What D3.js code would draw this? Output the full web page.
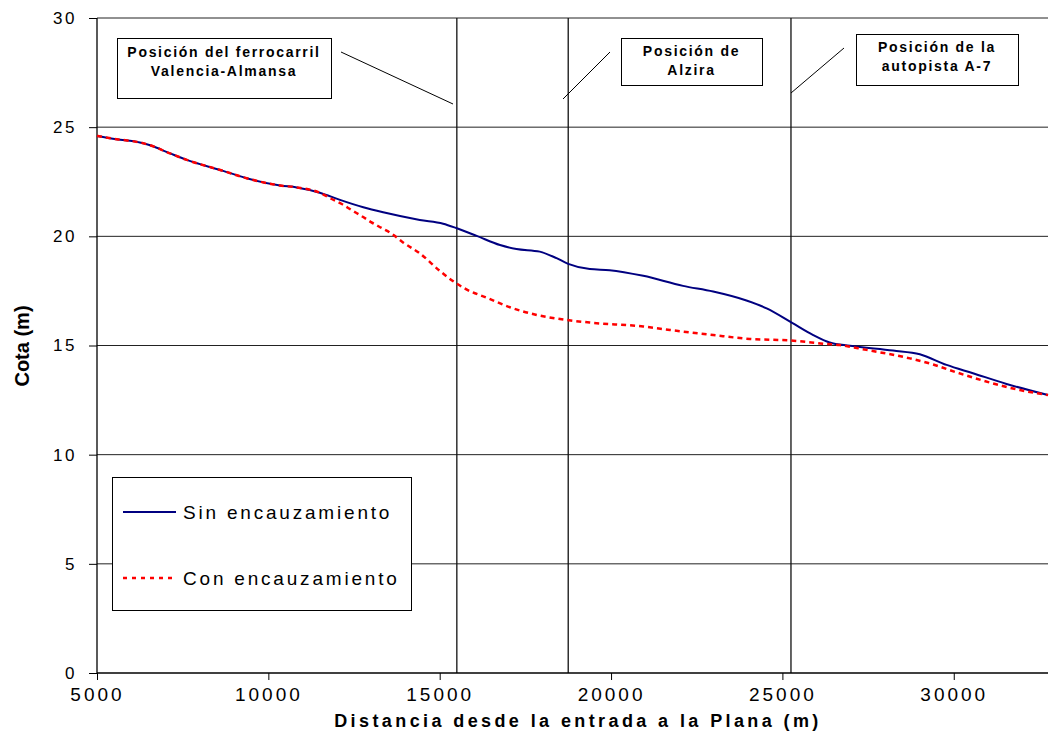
<!DOCTYPE html>
<html>
<head>
<meta charset="utf-8">
<script src="https://cdn.jsdelivr.net/npm/d3@7"></script>
<style>
  body { margin: 0; background: #fff; }
  text { font-family: "Liberation Sans", Arial, sans-serif; }
</style>
</head>
<body>
<svg id="chart"></svg>
<script>
// datos
const sinDist = [5000, 5570, 6250, 6550, 7130, 7620, 8680, 9370, 10340, 10830, 11500, 12090, 12770, 13350, 14420, 15100, 15500, 16080, 16760, 17240, 17920, 18410, 18750, 19380, 19960, 20940, 22100, 22980, 23950, 24540, 25270, 25900, 26380, 26970, 28230, 29010, 29790, 30560, 31540, 32750];
const sinCota = [24.6, 24.45, 24.3, 24.17, 23.8, 23.5, 23.0, 22.66, 22.33, 22.24, 22.0, 21.67, 21.33, 21.1, 20.75, 20.58, 20.37, 20.02, 19.6, 19.42, 19.3, 19.0, 18.74, 18.5, 18.45, 18.19, 17.73, 17.47, 17.06, 16.7, 16.05, 15.48, 15.14, 14.99, 14.77, 14.6, 14.11, 13.73, 13.24, 12.73];

const conDist = [5000, 5570, 6250, 6550, 7130, 7620, 8680, 9370, 10340, 10830, 11500, 11850, 12140, 12430, 12720, 13010, 13320, 13610, 13940, 14420, 15000, 15490, 15780, 16420, 17050, 17830, 18700, 19380, 20940, 21720, 22980, 24050, 25220, 26290, 26670, 27450, 28720, 29400, 30080, 30860, 31930, 32750];
const conCota = [24.6, 24.45, 24.3, 24.17, 23.8, 23.5, 23.0, 22.66, 22.33, 22.24, 22.0, 21.71, 21.48, 21.2, 20.93, 20.64, 20.37, 20.11, 19.71, 19.22, 18.42, 17.84, 17.57, 17.16, 16.75, 16.4, 16.17, 16.05, 15.87, 15.71, 15.48, 15.3, 15.23, 15.07, 15.02, 14.8, 14.41, 14.13, 13.77, 13.39, 12.96, 12.73];

const xTicks = [5000, 10000, 15000, 20000, 25000, 30000];
const yTicks = [0, 5, 10, 15, 20, 25, 30];

const posiciones = [15500, 18750, 25250];

const width = 1049;
const height = 740;
const margin = {top: 18, left: 97, right: 1, bottom: 67};

const svg = d3.select("#chart")
    .attr("width", width)
    .attr("height", height);

const x = d3.scaleLinear().domain([5000, 32750]).range([margin.left, width - margin.right]);
const y = d3.scaleLinear().domain([0, 30]).range([height - margin.bottom, margin.top]);

// rejilla horizontal
svg.append("g")
    .selectAll("line")
    .data(yTicks.filter(d => d > 0))
    .enter().append("line")
    .attr("x1", margin.left)
    .attr("x2", width - margin.right)
    .attr("y1", d => y(d))
    .attr("y2", d => y(d))
    .attr("stroke", "#222")
    .attr("stroke-width", 1);

// lineas verticales de posicion
svg.append("g")
    .selectAll("line")
    .data(posiciones)
    .enter().append("line")
    .attr("x1", d => x(d))
    .attr("x2", d => x(d))
    .attr("y1", y(30))
    .attr("y2", y(0))
    .attr("stroke", "#111")
    .attr("stroke-width", 1.3);

// ejes
const yAxis = svg.append("g")
    .attr("transform", `translate(${margin.left},0)`)
    .call(d3.axisLeft(y).tickValues(yTicks).tickSize(8).tickPadding(12));

const xAxis = svg.append("g")
    .attr("transform", `translate(0,${y(0)})`)
    .call(d3.axisBottom(x).tickValues(xTicks).tickSize(7).tickPadding(6).tickFormat(d3.format("d")));

[yAxis, xAxis].forEach(a => {
    a.select(".domain").attr("stroke", "#000").attr("stroke-width", 1.3);
    a.selectAll(".tick line").attr("stroke", "#000");
    a.selectAll("text")
        .attr("fill", "#000")
        .style("font-family", "'Liberation Sans', Arial, sans-serif")
        .style("font-size", "17px")
        .style("letter-spacing", "2.5px");
});
yAxis.select(".domain").attr("d", `M0,${y(30)}V${y(0)}`);
xAxis.select(".domain").attr("d", `M${x(5000)},0H${width - margin.right}`);
xAxis.selectAll("text")
    .style("font-size", "19px")
    .style("letter-spacing", "3px")
    .attr("dy", "0.8em");

// series
const line = d3.line()
    .x(d => x(d[0]))
    .y(d => y(d[1]))
    .curve(d3.curveMonotoneX);

svg.append("path")
    .datum(sinDist.map((d, i) => [d, sinCota[i]]))
    .attr("d", line)
    .attr("fill", "none")
    .attr("stroke", "#000080")
    .attr("stroke-width", 2);

svg.append("path")
    .datum(conDist.map((d, i) => [d, conCota[i]]))
    .attr("d", line)
    .attr("fill", "none")
    .attr("stroke", "#ff0000")
    .attr("stroke-width", 2.5)
    .attr("stroke-dasharray", "5,4");

// titulos de ejes
svg.append("text")
    .attr("x", 578)
    .attr("y", 727)
    .attr("text-anchor", "middle")
    .style("font-size", "18px")
    .style("font-weight", "bold")
    .style("letter-spacing", "3.4px")
    .text("Distancia desde la entrada a la Plana (m)");

svg.append("text")
    .attr("transform", "translate(29,346) rotate(-90)")
    .attr("text-anchor", "middle")
    .style("font-size", "20px")
    .style("font-weight", "bold")
    .text("Cota (m)");

// cajas de anotacion
const notas = [
    {lineas: ["Posición del ferrocarril", "Valencia-Almansa"], x0: 117, x1: 331, y0: 38, y1: 98, ty: 57, lx: [341, 453], ly: [52, 104]},
    {lineas: ["Posición de", "Alzira"], x0: 621, x1: 762, y0: 38, y1: 85, ty: 56, lx: [610, 563], ly: [52, 99]},
    {lineas: ["Posición de la", "autopista A-7"], x0: 856, x1: 1018, y0: 34, y1: 85, ty: 52, lx: [844, 791], ly: [48, 93]}
];

notas.forEach(n => {
    const g = svg.append("g");
    g.append("rect")
        .attr("x", n.x0 + 0.5)
        .attr("y", n.y0 + 0.5)
        .attr("width", n.x1 - n.x0)
        .attr("height", n.y1 - n.y0)
        .attr("fill", "#fff")
        .attr("stroke", "#000")
        .attr("stroke-width", 1);
    g.selectAll("text")
        .data(n.lineas)
        .enter().append("text")
        .attr("x", (n.x0 + n.x1) / 2)
        .attr("y", (d, i) => n.ty + i * 19)
        .attr("text-anchor", "middle")
        .style("font-size", "14px")
        .style("font-weight", "bold")
        .style("letter-spacing", "1.7px")
        .text(d => d);
    g.append("line")
        .attr("x1", n.lx[0]).attr("x2", n.lx[1])
        .attr("y1", n.ly[0]).attr("y2", n.ly[1])
        .attr("stroke", "#000")
        .attr("stroke-width", 1);
});

// leyenda
const leyenda = svg.append("g");
leyenda.append("rect")
    .attr("x", 112.5)
    .attr("y", 477.5)
    .attr("width", 299)
    .attr("height", 133)
    .attr("fill", "#fff")
    .attr("stroke", "#000")
    .attr("stroke-width", 1);

const entradas = [
    {nombre: "Sin encauzamiento", color: "#000080", dash: null, w: 2, ly: 512, ty: 519},
    {nombre: "Con encauzamiento", color: "#ff0000", dash: "4,5", w: 2.5, ly: 578, ty: 585}
];

entradas.forEach(e => {
    leyenda.append("line")
        .attr("x1", 123).attr("x2", 176)
        .attr("y1", e.ly).attr("y2", e.ly)
        .attr("stroke", e.color)
        .attr("stroke-width", e.w)
        .attr("stroke-dasharray", e.dash);
    leyenda.append("text")
        .attr("x", 183)
        .attr("y", e.ty)
        .style("font-size", "19px")
        .style("letter-spacing", "2.8px")
        .text(e.nombre);
});
</script>
</body>
</html>
